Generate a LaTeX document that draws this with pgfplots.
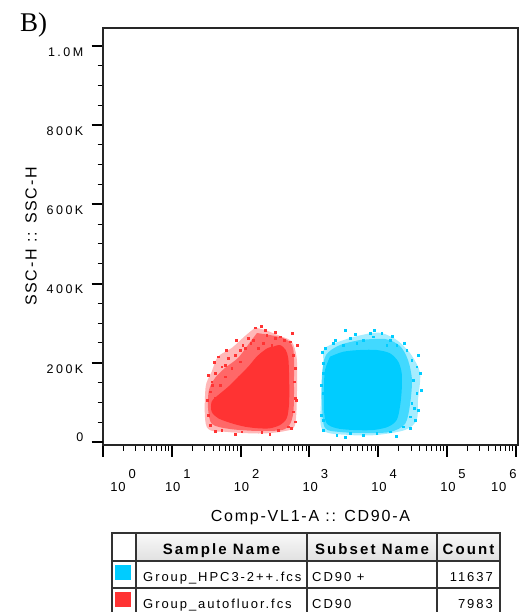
\documentclass[border=0pt]{standalone}
\usepackage{fontspec}
\setmainfont{Liberation Sans}
\newfontfamily\serifB{Liberation Serif}
\newfontfamily\tickf[LetterSpace=20]{Liberation Sans}
\newfontfamily\xtickf[LetterSpace=6]{Liberation Sans}
\newfontfamily\labf[LetterSpace=11]{Liberation Sans}
\newfontfamily\tabf[LetterSpace=15]{Liberation Sans}
\newfontfamily\tabhf[LetterSpace=14]{Liberation Sans}
\usepackage{pgfplots}
\pgfplotsset{compat=1.18}

\definecolor{cytored}{RGB}{255,51,51}
\definecolor{cytoblue}{RGB}{0,204,255}

% decade label: 10 with a raised exponent
\newcommand{\dec}[1]{10\hspace{3pt}\raisebox{12.5pt}{\fontsize{13}{13}\selectfont #1}}

\begin{document}
\begin{tikzpicture}
\begin{axis}[
  at={(103pt,-445pt)}, anchor=south west,
  scale only axis, width=415pt, height=417pt,
  xmode=log, log basis x=10,
  xmin=1, xmax=1.077e6,
  ymin=-7575, ymax=1045350,
  axis line style={line width=1.6pt, black!85},
  tick align=outside, tick pos=left,
  major tick length=11.5pt, minor tick length=5.5pt,
  major tick style={line width=2pt, black},
  minor tick style={line width=1pt, black},
  xtick={1,10,100,1000,10000,100000,1000000},
  minor xtick={2,3,4,5,6,7,8,9,20,30,40,50,60,70,80,90,200,300,400,500,600,700,800,900,
    2000,3000,4000,5000,6000,7000,8000,9000,20000,30000,40000,50000,60000,70000,80000,90000,
    200000,300000,400000,500000,600000,700000,800000,900000},
  xticklabels={{\hspace*{40pt}\dec{0}},{\hspace*{12pt}\dec{1}},{\hspace*{12pt}\dec{2}},
    {\hspace*{12pt}\dec{3}},{\hspace*{12pt}\dec{4}},{\hspace*{12pt}\dec{5}},{\dec{6}\hspace*{24pt}}},
  xticklabel style={font=\xtickf\fontsize{13}{13}\selectfont, anchor=north, inner sep=0pt, yshift=-13pt},
  ytick={200000,400000,600000,800000,1000000},
  yticklabels={200K,400K,600K,800K,1.0M},
  minor ytick={50000,100000,150000,250000,300000,350000,450000,500000,550000,
    650000,700000,750000,850000,900000,950000},
  extra y ticks={0}, extra y tick labels={0},
  extra y tick style={yticklabel style={yshift=11pt}},
  scaled y ticks=false,
  yticklabel style={font=\tickf\fontsize{12.5}{12.5}\selectfont, anchor=east, inner sep=0pt, xshift=-8pt, yshift=-6pt},
  xlabel={Comp-VL1-A :: CD90-A},
  xlabel style={font=\labf\fontsize{16}{16}\selectfont, at={(axis description cs:0.5,-0.174)}, anchor=center},
  ylabel={SSC-H :: SSC-H},
  ylabel style={font=\labf\fontsize{16}{16}\selectfont, at={(axis description cs:-0.1735,0.5)}, anchor=center},
]
% autofluorescence control: sparse zone, mid zone, dense core
\addplot[draw=none, fill=cytored, fill opacity=0.35, smooth] coordinates {
  (162,288600) (226,282800) (374,267700) (553,253300) (654,212100) (661,131300)
  (618,42900) (442,27800) (203,21500) (65.6,25300) (32.2,37900) (30.9,136400)
  (38,177500) (46.9,215400) (74.3,237400) (116,267700) (162,288600)};
\addplot[draw=none, fill=cytored, fill opacity=0.6, smooth] coordinates {
  (173,275200) (413,262600) (578,237400) (597,156600) (578,68200) (442,32800)
  (191,27800) (70.2,32800) (38.4,45500) (33.6,85900) (34.7,131300) (42.5,161600)
  (59.3,186900) (91.6,212100) (128,244900) (173,275200)};
\addplot[draw=none, fill=cytored, smooth] coordinates {
  (299,240600) (374,244900) (453,232300) (493,211300) (505,177500) (510,135600)
  (505,93400) (468,59800) (374,42900) (267,34600) (181,34600) (116,38600)
  (74.3,47200) (47.4,59800) (38,76500) (38,101800) (47.4,118700) (66.2,139600)
  (92.6,164900) (129,190100) (171,215400) (214,229800) (253,238100) (299,240600)};
\addplot[only marks, color=cytored, mark=square*, mark size=0.75pt, mark options={draw=none}] coordinates {
  (162,288600) (226,282800) (129,261800) (153,257600) (239,270200) (316,261800)
  (374,265900) (432,257600) (522,253300) (116,236600) (83,219700) (47.4,215400)
  (66.2,211300) (98,202800) (53.1,190100) (74.3,186100) (42.5,173500) (59.3,164900)
  (38,152300) (50.2,143900) (35.9,127000) (42.5,110300) (583,219700) (618,186100)
  (603,152300) (618,110300) (583,76500) (618,51300) (33.9,68200) (35.9,42900)
  (53.1,30300) (104,26000) (203,24500) (353,30300) (493,38600) (181,236600)
  (214,249200) (283,244900) (98,232300) (59.3,194400) (38.4,143900) (140,250000)
  (85.7,257600) (61.4,232300) (41,202000) (33.6,169200) (32.5,106100) (558,275200)
  (661,244900) (638,106100) (541,35400) (267,20200) (83,20200) (42.5,27800)
  (108,244900) (198,292900) (316,277800)};
% CD90+ cells: sparse zone, mid zone, dense core
\addplot[draw=none, fill=cytoblue, fill opacity=0.35, smooth] coordinates {
  (7603,274500) (11250,275200) (18580,257600) (28970,224700) (40550,174200)
  (37850,106100) (36310,55600) (24550,30300) (9506,17700) (3890,17700)
  (1560,30300) (1475,106100) (1592,199500) (1687,237400) (3890,262600) (7603,274500)};
\addplot[draw=none, fill=cytoblue, fill opacity=0.6, smooth] coordinates {
  (5433,257600) (12560,260100) (20750,242400) (27100,207100) (30970,156600)
  (28970,93400) (24550,45500) (14860,25300) (6427,22700) (2786,25300) (1687,35400)
  (1524,93400) (1524,169200) (1742,219700) (2786,244900) (5433,257600)};
\addplot[draw=none, fill=cytoblue, smooth] coordinates {
  (1991,215400) (3112,228000) (5433,232300) (9506,232300) (14860,224000)
  (19590,202800) (21980,173500) (21980,131300) (20750,89100) (18580,55600)
  (14030,38600) (8492,30300) (4345,30300) (2495,34600) (1783,47200) (1630,80800)
  (1630,139600) (1687,181800) (1991,215400)};
\addplot[only marks, color=cytoblue, mark=square*, mark size=0.75pt, mark options={draw=none}] coordinates {
  (7603,274500) (11250,274500) (8492,265900) (6073,257600) (3890,261800)
  (2223,249200) (1687,236600) (14860,257600) (18580,244900) (25940,232300)
  (30690,207100) (36310,190100) (40550,173500) (32360,156600) (36310,123000)
  (30690,97700) (38280,80800) (28970,63900) (34280,55600) (1592,198700)
  (1592,173500) (1592,123000) (1592,55600) (1592,30300) (2495,17700) (3890,22000)
  (6073,17700) (9506,22000) (14860,26000) (23170,38600) (3112,244900)
  (4875,249200) (13300,244900) (2355,257600) (4603,272700) (15890,267700)
  (23710,250000) (37850,219700) (41880,131300) (33110,85900) (28970,35400)
  (18160,15200) (3289,12600) (1475,68200) (1475,143900) (1524,227300)
  (3289,282800) (8690,282800)};
\end{axis}

\node[anchor=base west, inner sep=0pt] at (20pt,-32pt) {\serifB\fontsize{27}{27}\selectfont B)};

% statistics table
\fill[top color=gray!5, bottom color=gray!24] (136pt,-533pt) rectangle (500pt,-561pt);
\fill[cytoblue] (115pt,-565pt) rectangle (131pt,-580pt);
\fill[cytored] (115pt,-592pt) rectangle (131pt,-607pt);
\draw[line width=1.2pt, black!80] (112pt,-533pt) rectangle (500pt,-615pt);
\draw[line width=1.1pt, black!80] (112pt,-561pt) -- (500pt,-561pt)
  (112pt,-588pt) -- (500pt,-588pt)
  (136pt,-533pt) -- (136pt,-615pt)
  (307pt,-533pt) -- (307pt,-615pt)
  (437pt,-533pt) -- (437pt,-615pt);
\begin{scope}[every node/.style={inner sep=0pt}]
\node[anchor=base] at (221.5pt,-554pt) {\tabhf\bfseries\fontsize{15}{15}\selectfont Sample Name};
\node[anchor=base] at (372pt,-554pt) {\tabhf\bfseries\fontsize{15}{15}\selectfont Subset Name};
\node[anchor=base] at (468.5pt,-554pt) {\tabhf\bfseries\fontsize{15}{15}\selectfont Count};
\node[anchor=base west] at (143pt,-581pt) {\tabf\fontsize{13}{13}\selectfont Group\_HPC3-2++.fcs};
\node[anchor=base west] at (312pt,-581pt) {\tabf\fontsize{13}{13}\selectfont CD90 +};
\node[anchor=base east] at (493pt,-581pt) {\tabf\fontsize{13}{13}\selectfont 11637};
\node[anchor=base west] at (143pt,-608pt) {\tabf\fontsize{13}{13}\selectfont Group\_autofluor.fcs};
\node[anchor=base west] at (312pt,-608pt) {\tabf\fontsize{13}{13}\selectfont CD90};
\node[anchor=base east] at (493pt,-608pt) {\tabf\fontsize{13}{13}\selectfont 7983};
\end{scope}

\pgfresetboundingbox
\path[use as bounding box] (0pt,0pt) rectangle (523pt,-612pt);
\end{tikzpicture}
\end{document}
